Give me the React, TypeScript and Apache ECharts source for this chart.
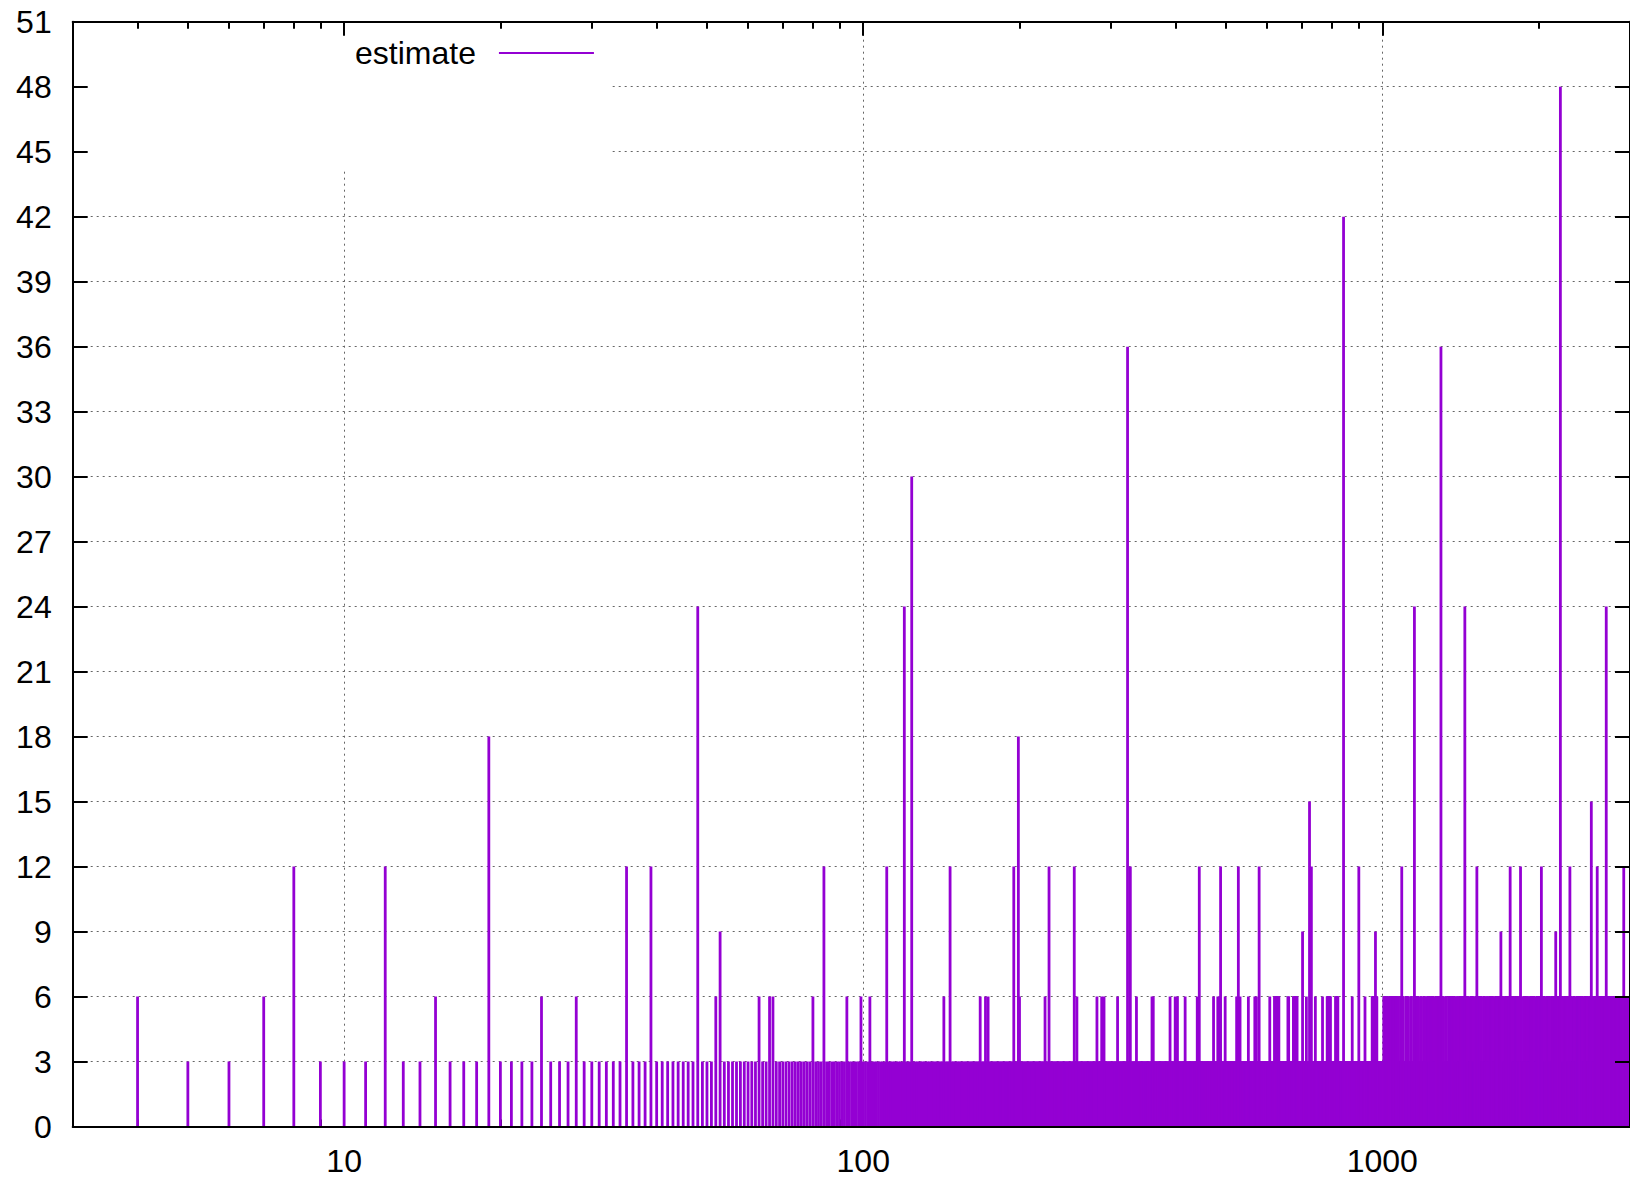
import React, { useEffect, useRef } from "react";
import * as echarts from "echarts";

// ---- data ----
// Every integer x from FIRST_X to LAST_X carries at least BASE_LEVEL.
const FIRST_X = 4;
const LAST_X = 3000;
const BASE_LEVEL = 3;

// single integers whose estimate is 6
const sixAt: number[] = [
  4, 7, 15, 24, 28, 52, 63, 66, 67, 80, 93, 99, 103, 143, 168, 172, 174, 200,
  224, 258, 282, 288, 291, 309, 336, 360, 362, 390, 399, 403, 417, 440, 473,
  482, 485, 498, 524, 532, 552, 568, 572, 607, 620, 658, 659, 660, 714, 743,
  767, 875, 926,
];

// runs of consecutive integers whose estimate is 6 (dense region)
const sixRuns: [number, number][] = [
  [621, 632], [674, 685], [783, 794], [813, 821], [956, 976],
  [1007, 1019], [1031, 1073], [1085, 1096], [1110, 1120], [1134, 1137],
  [1151, 1171], [1185, 1189], [1203, 1207], [1221, 1228], [1242, 1255],
  [1271, 1308], [1324, 1328], [1344, 1378], [1394, 1398], [1414, 1461],
  [1479, 1494], [1512, 1551], [1569, 1574], [1592, 1596], [1616, 1632],
  [1652, 1706], [1726, 1783], [1805, 1823], [1845, 1851], [1873, 1878],
  [1900, 1905], [1929, 1963], [1987, 2052], [2076, 2097], [2123, 2225],
  [2251, 2274], [2302, 2309], [2337, 2343], [2371, 2430], [2460, 2485],
  [2515, 2541], [2571, 3000],
];

// taller spikes [x, estimate]
const spikes: [number, number][] = [
  [8, 12], [12, 12], [19, 18], [35, 12], [39, 12], [48, 24], [53, 9],
  [84, 12], [111, 12], [120, 24], [124, 30], [147, 12], [195, 12], [199, 18],
  [228, 12], [255, 12], [323, 36], [327, 12], [444, 12], [488, 12], [528, 12],
  [579, 12], [702, 9], [724, 15], [730, 12], [842, 42], [901, 12], [970, 9],
  [1090, 12], [1153, 24], [1297, 36], [1442, 24], [1521, 12], [1692, 9],
  [1763, 12], [1846, 12], [2025, 12], [2158, 9], [2203, 48], [2298, 12],
  [2527, 15], [2594, 12], [2700, 24], [2918, 12],
];

const xMajorTicks = [10, 100, 1000];
const xMinorTicks = [4, 5, 6, 7, 8, 9, 20, 30, 40, 50, 60, 70, 80, 90, 200, 300, 400, 500, 600, 700, 800, 900, 2000];
const X_MIN = 3;
const X_MAX = 3000;
const Y_MIN = 0;
const Y_MAX = 51;
const Y_STEP = 3;
const SERIES_NAME = "estimate";

function buildData(): [number, number][] {
  const values = new Map<number, number>();
  for (let x = FIRST_X; x <= LAST_X; x++) values.set(x, BASE_LEVEL);
  for (const [a, b] of sixRuns) for (let x = a; x <= b; x++) values.set(x, 6);
  for (const x of sixAt) values.set(x, 6);
  for (const [x, v] of spikes) values.set(x, v);
  return Array.from(values.entries()).map(([x, v]) => [x, v] as [number, number]);
}

const COLOR = "#9400D3";
const FONT = "'Liberation Sans', Arial, Helvetica, sans-serif";
const GRID_COLOR = "#666666";

export default function App() {
  const ref = useRef<HTMLDivElement>(null);

  useEffect(() => {
    if (!ref.current) return;
    const chart = echarts.init(ref.current, undefined, { renderer: "svg" });
    const data = buildData();

    const xBase = { type: "log" as const, logBase: 10, min: X_MIN, max: X_MAX, gridIndex: 0 };
    const yBase = { type: "value" as const, min: Y_MIN, max: Y_MAX, interval: Y_STEP, gridIndex: 0 };
    const black = { color: "#000", width: 2 };
    const none = { show: false };
    const gridStyle = { color: GRID_COLOR, width: 1, type: [2, 4] as number[] };

    chart.setOption({
      animation: false,
      backgroundColor: "#fff",
      textStyle: { fontFamily: FONT },
      grid: { left: 72.7, top: 21.7, right: -4.5, bottom: 52.5, containLabel: false },
      legend: {
        show: true,
        data: [SERIES_NAME],
        left: 355,
        top: 37,
        padding: 0,
        align: "right",
        icon: "rect",
        itemWidth: 95,
        itemHeight: 2,
        textStyle: { fontSize: 32, color: "#000", fontFamily: FONT, padding: [0, 18, 0, 0] },
        selectedMode: false,
      },
      graphic: [
        {
          type: "rect",
          z: 1,
          shape: { x: 74, y: 23, width: 538, height: 148 },
          style: { fill: "#fff" },
          silent: true,
        },
      ],
      xAxis: [
        // grid lines (behind everything)
        {
          ...xBase, position: "bottom", z: 0,
          axisLine: none, axisTick: none, axisLabel: none,
          splitLine: { show: true, showMinLine: false, showMaxLine: false, lineStyle: gridStyle },
        },
        // bottom border + labels (front)
        {
          ...xBase, position: "bottom", z: 10,
          axisLine: { show: true, onZero: false, lineStyle: black },
          axisTick: none,
          axisLabel: {
            show: true, customValues: xMajorTicks, margin: 18, fontSize: 32, color: "#000", fontFamily: FONT,
            formatter: (v: number) => String(Math.round(v)),
          },
          splitLine: none,
        },
        // bottom major ticks (behind the impulses)
        {
          ...xBase, position: "bottom", z: 0,
          axisLine: none,
          axisTick: { show: true, inside: true, length: 14, customValues: xMajorTicks, lineStyle: black },
          axisLabel: none, splitLine: none,
        },
        // bottom minor ticks (behind the impulses)
        {
          ...xBase, position: "bottom", z: 0,
          axisLine: none,
          axisTick: { show: true, inside: true, length: 7, customValues: xMinorTicks, lineStyle: black },
          axisLabel: none, splitLine: none,
        },
        // top border + major ticks
        {
          ...xBase, position: "top", z: 10,
          axisLine: { show: true, onZero: false, lineStyle: black },
          axisTick: { show: true, inside: true, length: 14, customValues: xMajorTicks, lineStyle: black },
          axisLabel: none, splitLine: none,
        },
        // top minor ticks
        {
          ...xBase, position: "top", z: 10,
          axisLine: none,
          axisTick: { show: true, inside: true, length: 7, customValues: xMinorTicks, lineStyle: black },
          axisLabel: none, splitLine: none,
        },
      ],
      yAxis: [
        {
          ...yBase, position: "left", z: 0,
          axisLine: none, axisTick: none, axisLabel: none,
          splitLine: { show: true, showMinLine: false, showMaxLine: false, lineStyle: gridStyle },
        },
        {
          ...yBase, position: "left", z: 10,
          axisLine: { show: true, onZero: false, lineStyle: black },
          axisTick: { show: true, inside: true, length: 15, lineStyle: black },
          axisLabel: { show: true, margin: 21, fontSize: 32, color: "#000", fontFamily: FONT },
          splitLine: none,
        },
        {
          ...yBase, position: "right", z: 10,
          axisLine: { show: true, onZero: false, lineStyle: black },
          axisTick: { show: true, inside: true, length: 15, lineStyle: black },
          axisLabel: none, splitLine: none,
        },
      ],
      series: [
        {
          type: "custom",
          name: SERIES_NAME,
          xAxisIndex: 0,
          yAxisIndex: 0,
          z: 2,
          progressive: 0,
          itemStyle: { color: COLOR },
          encode: { x: 0, y: 1 },
          data,
          renderItem: (_params: any, api: any) => {
            const x = api.value(0);
            const y = api.value(1);
            const p0 = api.coord([x, 0]);
            const p1 = api.coord([x, y]);
            return {
              type: "line",
              shape: { x1: p0[0], y1: p0[1], x2: p1[0], y2: p1[1] },
              style: { stroke: COLOR, lineWidth: 2.8, fill: null },
            };
          },
        },
      ],
    });

    return () => chart.dispose();
  }, []);

  return (
    <div
      ref={ref}
      style={{ position: "fixed", left: 0, top: 0, width: 1630, height: 1179, background: "#fff" }}
    />
  );
}
